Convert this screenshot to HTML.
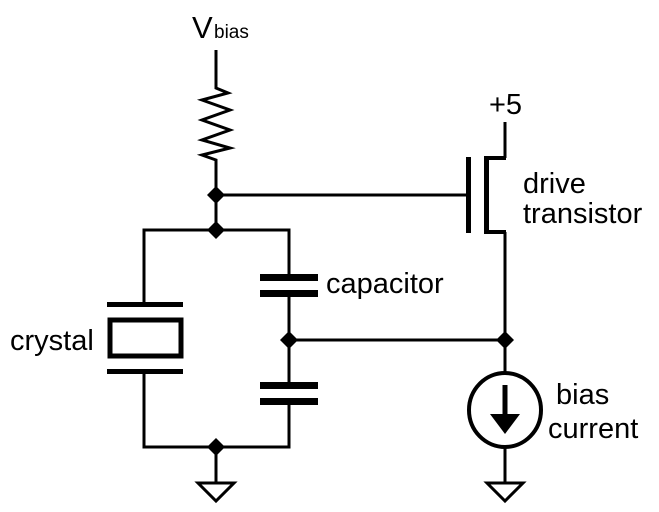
<!DOCTYPE html>
<html><head><meta charset="utf-8"><style>
html,body{margin:0;padding:0;background:#fff}
svg{display:block}
text{font-family:"Liberation Sans",sans-serif;fill:#000}
</style></head><body>
<svg width="659" height="512" viewBox="0 0 659 512" xmlns="http://www.w3.org/2000/svg">
<g stroke="#000" stroke-width="3" fill="none" stroke-linejoin="miter">
<polyline points="216,50 216,88 228,93 202,100 230,110 202,120 230,130 202,140 230,148 202,155 216,160 216,230"/>
<line x1="216" y1="195" x2="468" y2="195"/>
<polyline points="144,305 144,230 289,230 289,277"/>
<polyline points="144,372 144,447 289,447 289,402"/>
<line x1="289" y1="293" x2="289" y2="386"/>
<line x1="289" y1="340" x2="505" y2="340"/>
<line x1="216" y1="447" x2="216" y2="482"/>
<polygon points="198,483 234,483 216,501"/>
<line x1="505" y1="122" x2="505" y2="158"/>
<line x1="505" y1="232" x2="505" y2="373"/>
<line x1="505" y1="447" x2="505" y2="483"/>
<polygon points="487,483 523,483 505,501"/>
<ellipse cx="505" cy="410" rx="36" ry="37" stroke-width="4"/>
<line x1="505" y1="385" x2="505" y2="418" stroke-width="5"/>
</g>
<g fill="#000">
<rect x="466" y="157" width="5" height="76"/>
<rect x="484" y="157" width="5" height="76"/>
<rect x="484" y="156" width="22" height="4"/>
<rect x="484" y="230" width="22" height="4"/>
<polygon points="490,414 520,414 505,434"/>
<rect x="107" y="302" width="76" height="5"/>
<rect x="107" y="369" width="76" height="5"/>
<rect x="110" y="320" width="71" height="36" fill="none" stroke="#000" stroke-width="5"/>
<rect x="260" y="274" width="58" height="7"/>
<rect x="260" y="290" width="58" height="7"/>
<rect x="260" y="382" width="58" height="7"/>
<rect x="260" y="398" width="58" height="7"/>
<polygon points="216,186 225,195 216,204 207,195"/>
<polygon points="216,221 225,230 216,239 207,230"/>
<polygon points="289,331 298,340 289,349 280,340"/>
<polygon points="505,331 514,340 505,349 496,340"/>
<polygon points="216,438 225,447 216,456 207,447"/>
</g>
<text x="192" y="38" font-size="31">V</text>
<text x="214" y="38" font-size="19">bias</text>
<text x="489" y="114" font-size="29">+5</text>
<text x="523" y="193" font-size="29">drive</text>
<text x="523" y="223" font-size="29">transistor</text>
<text x="326" y="293" font-size="29">capacitor</text>
<text x="10" y="350" font-size="29">crystal</text>
<text x="556" y="404" font-size="29">bias</text>
<text x="548" y="438" font-size="29">current</text>
</svg>
</body></html>
